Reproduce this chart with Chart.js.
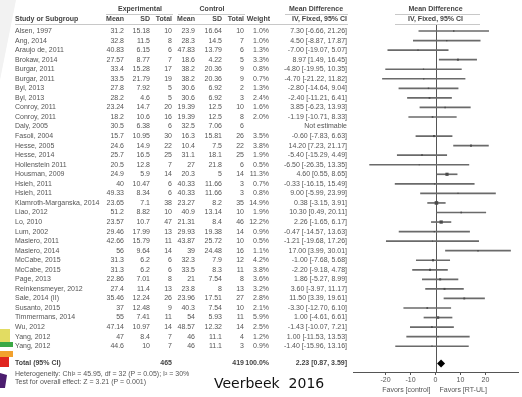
<!DOCTYPE html>
<html>
<head>
<meta charset="utf-8">
<script src="https://cdn.jsdelivr.net/npm/chart.js@4.4.1/dist/chart.umd.min.js"></script>
<style>
  html, body { margin: 0; padding: 0; background: #fff; }
  #wrap { width: 522px; height: 397px; position: relative; }
</style>
</head>
<body>
<div id="wrap"><canvas id="forest"></canvas></div>
<script>
// --- Data ---
const studies = [
  'Alsen, 1997', 'Ang, 2014', 'Araujo de, 2011', 'Brokaw, 2014', 'Burgar, 2011', 'Burgar, 2011',
  'Byl, 2013', 'Byl, 2013', 'Conroy, 2011', 'Conroy, 2011', 'Daly, 2005', 'Fasoli, 2004',
  'Hesse, 2005', 'Hesse, 2014', 'Hollenstein 2011', 'Housman, 2009', 'Hsieh, 2011', 'Hsieh, 2011',
  'Klamroth-Marganska, 2014', 'Liao, 2012', 'Lo, 2010', 'Lum, 2002', 'Masiero, 2011', 'Masiero, 2014',
  'McCabe, 2015', 'McCabe, 2015', 'Page, 2013', 'Reinkensmeyer, 2012', 'Sale, 2014 (II)', 'Susanto, 2015',
  'Timmermans, 2014', 'Wu, 2012', 'Yang, 2012', 'Yang, 2012'
];
const expMean = [31.2, 32.8, 40.83, 27.57, 33.4, 33.5, 27.8, 28.2, 23.24, 18.2, 30.5, 15.7,
  24.6, 25.7, 20.5, 24.9, 40, 49.33, 23.65, 51.2, 23.57, 29.46, 42.66, 56,
  31.3, 31.3, 22.86, 27.4, 35.46, 37, 55, 47.14, 47, 44.6];
const expSD = [15.18, 11.5, 6.15, 8.77, 15.28, 21.79, 7.92, 4.6, 14.7, 10.6, 6.38, 10.95,
  14.9, 16.5, 12.8, 5.9, 10.47, 8.34, 7.1, 8.82, 10.7, 17.99, 15.79, 9.64,
  6.2, 6.2, 7.01, 11.4, 12.24, 12.48, 7.41, 10.97, 8.4, 10];
const expN = [10, 8, 6, 7, 17, 19, 5, 5, 20, 16, 6, 30, 22, 25, 7, 14, 6, 6, 38, 10, 47, 13, 11, 14,
  6, 6, 8, 13, 26, 9, 11, 14, 7, 7];
const ctlMean = [23.9, 28.3, 47.83, 18.6, 38.2, 38.2, 30.6, 30.6, 19.39, 19.39, 32.5, 16.3,
  10.4, 31.1, 27, 20.3, 40.33, 40.33, 23.27, 40.9, 21.31, 29.93, 43.87, 39,
  32.3, 33.5, 21, 23.8, 23.96, 40.3, 54, 48.57, 46, 46];
const ctlSD = [16.64, 14.5, 13.79, 4.22, 20.36, 20.36, 6.92, 6.92, 12.5, 12.5, 7.06, 15.81,
  7.5, 18.1, 21.8, 5, 11.66, 11.66, 8.2, 13.14, 8.4, 19.38, 25.72, 24.48,
  7.9, 8.3, 7.54, 8, 17.51, 7.54, 5.93, 12.32, 11.1, 11.1];
const ctlN = [10, 7, 6, 5, 9, 9, 2, 3, 10, 8, 6, 26, 22, 25, 6, 14, 3, 3, 35, 10, 46, 14, 10, 16,
  12, 11, 8, 13, 27, 10, 11, 14, 4, 3];
const weight = [1.0, 1.0, 1.3, 3.3, 0.8, 0.7, 1.3, 2.4, 1.6, 2.0, null, 3.5, 3.8, 1.9, 0.5, 11.3,
  0.7, 0.8, 14.9, 1.9, 12.2, 0.9, 0.5, 1.1, 4.2, 3.8, 3.6, 3.2, 2.8, 2.1, 5.9, 2.5, 1.2, 0.9];
const meanDiff = [7.30, 4.50, -7.00, 8.97, -4.80, -4.70, -2.80, -2.40, 3.85, -1.19, null, -0.60,
  14.20, -5.40, -6.50, 4.60, -0.33, 9.00, 0.38, 10.30, 2.26, -0.47, -1.21, 17.00,
  -1.00, -2.20, 1.86, 3.60, 11.50, -3.30, 1.00, -1.43, 1.00, -1.40];
const ciLow = [-6.66, -8.87, -19.07, 1.49, -19.95, -21.22, -14.64, -11.21, -6.23, -10.71, null, -7.83,
  7.23, -15.29, -26.35, 0.55, -16.15, -5.99, -3.15, 0.49, -1.65, -14.57, -19.68, 3.99,
  -7.68, -9.18, -5.27, -3.97, 3.39, -12.70, -4.61, -10.07, -11.53, -15.96];
const ciHigh = [21.26, 17.87, 5.07, 16.45, 10.35, 11.82, 9.04, 6.41, 13.93, 8.33, null, 6.63,
  21.17, 4.49, 13.35, 8.65, 15.49, 23.99, 3.91, 20.11, 6.17, 13.63, 17.26, 30.01,
  5.68, 4.78, 8.99, 11.17, 19.61, 6.10, 6.61, 7.21, 13.53, 13.16];

const totalExpN = 465;
const totalCtlN = 419;
const totalWeight = 100.0;
const totalMD = 2.23;
const totalLow = 0.87;
const totalHigh = 3.59;
const heterogeneityText = 'Heterogeneity: Chi\u00B2 = 45.95, df = 32 (P = 0.05); I\u00B2 = 30%';
const overallText = 'Test for overall effect: Z = 3.21 (P = 0.001)';
const xTicks = [-20, -10, 0, 10, 20];

// --- Layout constants ---
const FONT = '"Liberation Sans", Arial, sans-serif';
const TOTAL_ROW = 34.8;
// right edges of the table columns
const COL = { eMean: 124, eSD: 150, eN: 172, cMean: 195, cSD: 222, cN: 244, w: 269, ci: 347 };

function ciText(m, lo, hi) {
  return m.toFixed(2) + ' [' + lo.toFixed(2) + ', ' + hi.toFixed(2) + ']';
}

// build datasets from the arrays
const ciBars = [];
const squares = [];
studies.forEach((s, i) => {
  if (meanDiff[i] === null) return;
  ciBars.push({ x: [ciLow[i], ciHigh[i]], y: i });
  squares.push({ x: meanDiff[i], y: i, w: weight[i] });
});

// plugin: background decoration, table text, zero line, axis captions
const forestTable = {
  id: 'forestTable',
  beforeDraw(chart) {
    const ctx = chart.ctx;
    ctx.save();
    ctx.fillStyle = '#fff';
    ctx.fillRect(0, 0, chart.width, chart.height);
    // faint watermark on the left
    ctx.fillStyle = '#f2f2f2';
    ctx.beginPath();
    ctx.moveTo(0, 0); ctx.lineTo(16, 0); ctx.lineTo(0, 80); ctx.closePath();
    ctx.fill();
    // little coloured logo in the bottom-left corner
    ctx.fillStyle = '#e2dc62'; ctx.fillRect(0, 329, 10, 13);
    ctx.fillStyle = '#3aa845'; ctx.fillRect(0, 342, 13, 5);
    ctx.fillStyle = '#f2a12e'; ctx.fillRect(0, 351, 13, 6);
    ctx.fillStyle = '#e0261f'; ctx.fillRect(0, 357, 9, 10);
    ctx.fillStyle = '#4b1d6e';
    ctx.beginPath();
    ctx.moveTo(0, 373); ctx.lineTo(7, 375); ctx.lineTo(5, 388); ctx.lineTo(0, 388); ctx.closePath();
    ctx.fill();
    ctx.restore();
  },
  beforeDatasetsDraw(chart) {
    const { ctx, chartArea, scales } = chart;
    const x0 = scales.x.getPixelForValue(0);
    ctx.save();
    ctx.strokeStyle = '#555';
    ctx.lineWidth = 1;
    ctx.beginPath();
    ctx.moveTo(Math.round(x0) + 0.5, chartArea.top);
    ctx.lineTo(Math.round(x0) + 0.5, chartArea.bottom);
    ctx.stroke();
    ctx.restore();
  },
  afterDraw(chart) {
    const { ctx, scales } = chart;
    const yOf = i => scales.y.getPixelForValue(i);
    const x0 = scales.x.getPixelForValue(0);
    ctx.save();
    ctx.textBaseline = 'middle';

    // header lines
    ctx.strokeStyle = '#c8c8c8';
    ctx.lineWidth = 1;
    [[106, 173], [178, 245], [285, 348], [395, 480]].forEach(([a, b]) => {
      ctx.beginPath(); ctx.moveTo(a, 14.5); ctx.lineTo(b, 14.5); ctx.stroke();
    });
    [[15, 348], [395, 480]].forEach(([a, b]) => {
      ctx.beginPath(); ctx.moveTo(a, 24.5); ctx.lineTo(b, 24.5); ctx.stroke();
    });

    // headers
    ctx.fillStyle = '#444';
    ctx.font = 'bold 7px ' + FONT;
    ctx.textAlign = 'center';
    ctx.fillText('Experimental', 140, 9);
    ctx.fillText('Control', 212, 9);
    ctx.fillText('Mean Difference', 316, 9);
    ctx.fillText('Mean Difference', x0, 9);
    ctx.fillText('IV, Fixed, 95% CI', x0, 19.5);
    ctx.textAlign = 'left';
    ctx.fillText('Study or Subgroup', 15, 19.5);
    ctx.textAlign = 'right';
    ctx.fillText('Mean', COL.eMean, 19.5);
    ctx.fillText('SD', COL.eSD, 19.5);
    ctx.fillText('Total', COL.eN, 19.5);
    ctx.fillText('Mean', COL.cMean, 19.5);
    ctx.fillText('SD', COL.cSD, 19.5);
    ctx.fillText('Total', COL.cN, 19.5);
    ctx.fillText('Weight', COL.w + 1, 19.5);
    ctx.fillText('IV, Fixed, 95% CI', COL.ci, 19.5);

    // study rows
    ctx.fillStyle = '#555';
    ctx.font = '7px ' + FONT;
    studies.forEach((s, i) => {
      const y = yOf(i);
      ctx.textAlign = 'left';
      ctx.fillText(s, 15, y);
      ctx.textAlign = 'right';
      ctx.fillText(String(expMean[i]), COL.eMean, y);
      ctx.fillText(String(expSD[i]), COL.eSD, y);
      ctx.fillText(String(expN[i]), COL.eN, y);
      ctx.fillText(String(ctlMean[i]), COL.cMean, y);
      ctx.fillText(String(ctlSD[i]), COL.cSD, y);
      ctx.fillText(String(ctlN[i]), COL.cN, y);
      if (weight[i] !== null) {
        ctx.fillText(weight[i].toFixed(1) + '%', COL.w, y);
        ctx.fillText(ciText(meanDiff[i], ciLow[i], ciHigh[i]), COL.ci, y);
      } else {
        ctx.fillText('Not estimable', COL.ci, y);
      }
    });

    // total row
    const yt = yOf(TOTAL_ROW);
    ctx.font = 'bold 7px ' + FONT;
    ctx.fillStyle = '#444';
    ctx.textAlign = 'left';
    ctx.fillText('Total (95% CI)', 15, yt);
    ctx.textAlign = 'right';
    ctx.fillText(String(totalExpN), COL.eN, yt);
    ctx.fillText(String(totalCtlN), COL.cN, yt);
    ctx.fillText(totalWeight.toFixed(1) + '%', COL.w, yt);
    ctx.fillText(ciText(totalMD, totalLow, totalHigh), COL.ci, yt);

    ctx.font = '7px ' + FONT;
    ctx.fillStyle = '#555';
    ctx.textAlign = 'left';
    ctx.fillText(heterogeneityText, 15, yt + 11);
    ctx.fillText(overallText, 15, yt + 19);

    // favours captions under the axis
    ctx.textAlign = 'right';
    ctx.fillText('Favors [control]', x0 - 5, 390);
    ctx.textAlign = 'left';
    ctx.fillText('Favors [RT-UL]', x0 + 4, 390);

    // source caption
    ctx.fillStyle = '#111';
    ctx.font = '14px "Comic Sans MS", "DejaVu Sans", sans-serif';
    ctx.textAlign = 'left';
    ctx.fillText('Veerbeek  2016', 214, 384);
    ctx.restore();
  }
};

const chart = new Chart(document.getElementById('forest'), {
  type: 'bar',
  data: {
    datasets: [
      {
        type: 'bar',
        data: ciBars,
        backgroundColor: '#6a6a6a',
        barThickness: 1,
        borderWidth: 0,
        order: 2
      },
      {
        type: 'scatter',
        data: squares,
        pointStyle: 'rect',
        backgroundColor: '#4a4a4a',
        borderWidth: 0,
        pointRadius: ctx => 0.55 * Math.sqrt(ctx.raw.w) + 0.4,
        order: 1
      },
      {
        type: 'scatter',
        data: [{ x: totalMD, y: TOTAL_ROW }],
        pointStyle: 'rectRot',
        backgroundColor: '#000',
        borderWidth: 0,
        pointRadius: 4,
        order: 0
      }
    ]
  },
  options: {
    indexAxis: 'y',
    responsive: true,
    maintainAspectRatio: false,
    animation: false,
    events: [],
    layout: { padding: { left: 353, right: 2, top: 25, bottom: 0 } },
    plugins: {
      legend: { display: false },
      tooltip: { enabled: false },
      title: { display: false }
    },
    scales: {
      x: {
        type: 'linear',
        position: 'bottom',
        min: -33,
        max: 33,
        afterBuildTicks: scale => { scale.ticks = xTicks.map(v => ({ value: v })); },
        afterFit: scale => { scale.height = 25; },
        grid: { drawOnChartArea: false, drawTicks: true, tickLength: 3, color: '#555' },
        border: { display: true, color: '#555', width: 1 },
        ticks: { font: { family: FONT, size: 7 }, color: '#555', padding: 1, maxRotation: 0 }
      },
      y: {
        type: 'linear',
        display: false,
        reverse: true,
        offset: false,
        min: -0.63,
        max: 35.7
      }
    }
  },
  plugins: [forestTable]
});
</script>
</body>
</html>
